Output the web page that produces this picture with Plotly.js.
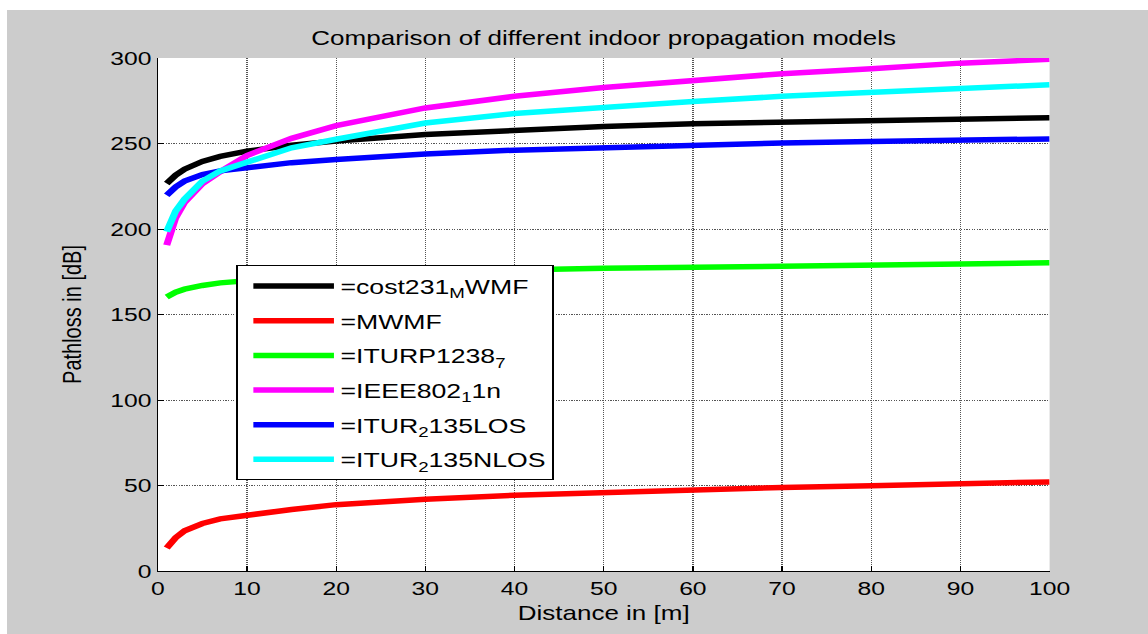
<!DOCTYPE html>
<html>
<head>
<meta charset="utf-8">
<script src="https://cdn.plot.ly/plotly-3.0.1.min.js"></script>
<style>
  html, body { margin: 0; padding: 0; background: #ffffff; width: 1148px; height: 634px; overflow: hidden; }
  #wrap { position: absolute; left: 7px; top: 10px; width: 1141px; height: 624px; overflow: hidden; background: #cccccc; }
  #plot { position: absolute; left: 0; top: 0; width: 878px; height: 624px; transform: scaleX(1.3); transform-origin: 0 0; }
</style>
</head>
<body>
<div id="wrap"><div id="plot"></div></div>
<script>
// ---- data ----
const distance = [1, 2, 3, 4, 5, 7, 10, 15, 20, 30, 40, 50, 60, 70, 80, 90, 100];
const cost231MWMF = [226.6, 231.5, 235.0, 237.5, 239.5, 242.5, 245.5, 249.0, 251.5, 255.2, 257.7, 260.0, 261.6, 262.6, 263.6, 264.5, 265.1];
const MWMF = [13.5, 19.5, 23.5, 26.0, 27.8, 30.5, 32.6, 36.0, 38.8, 42.0, 44.3, 46.0, 47.6, 48.9, 49.9, 50.9, 52.1];
const ITURP1238_7 = [160.2, 163.0, 164.8, 166.0, 167.0, 168.5, 170.0, 171.8, 173.0, 174.8, 176.0, 177.0, 177.8, 178.5, 179.1, 179.5, 180.2];
const IEEE802_11n = [190.6, 206.5, 215.5, 221.5, 226.5, 233.5, 243.0, 253.0, 260.5, 270.8, 277.6, 282.7, 286.7, 290.8, 293.7, 297.0, 299.2];
const ITUR2135LOS = [219.8, 224.6, 228.0, 230.0, 231.8, 234.0, 236.0, 238.8, 240.6, 243.8, 246.1, 247.6, 249.2, 250.3, 251.1, 251.9, 252.7];
const ITUR2135NLOS = [198.4, 210.5, 217.5, 223.0, 228.0, 234.0, 239.0, 247.5, 252.5, 262.0, 267.5, 271.3, 274.5, 277.6, 280.1, 282.1, 284.4];

const seriesNames = ['=cost231<sub>M</sub>WMF', '=MWMF', '=ITURP1238<sub>7</sub>', '=IEEE802<sub>1</sub>1n', '=ITUR<sub>2</sub>135LOS', '=ITUR<sub>2</sub>135NLOS'];
const seriesValues = [cost231MWMF, MWMF, ITURP1238_7, IEEE802_11n, ITUR2135LOS, ITUR2135NLOS];
const seriesColors = ['#000000', '#ff0000', '#00ff00', '#ff00ff', '#0000ff', '#00ffff'];

const xTicks = [0, 10, 20, 30, 40, 50, 60, 70, 80, 90, 100];
const yTicks = [0, 50, 100, 150, 200, 250, 300];

const titleText = 'Comparison of different indoor propagation models';
const xTitle = 'Distance in [m]';
const yTitle = 'Pathloss in [dB]';

// ---- traces ----
const traces = seriesValues.map((vals, i) => ({
  x: distance,
  y: vals,
  type: 'scatter',
  mode: 'lines',
  name: seriesNames[i],
  legendgroup: 'g' + i,
  line: { color: seriesColors[i], width: 5.5 },
  hoverinfo: 'x+y'
}));

const FONT = 'Arial, "Liberation Sans", Helvetica, sans-serif';

const baseAxis = {
  showgrid: true,
  gridcolor: '#555555',
  griddash: '1px,1px',
  gridwidth: 1,
  zeroline: false,
  showline: true,
  linecolor: '#000000',
  linewidth: 1,
  mirror: false,
  ticks: 'inside',
  ticklen: 5,
  tickwidth: 1,
  tickcolor: '#000000',
  tickfont: { family: FONT, size: 19, color: '#000000' }
};

const layout = {
  width: 878,
  height: 624,
  margin: { l: 115.6, r: 75.7, t: 47.5, b: 62.5, pad: 0 },
  paper_bgcolor: '#cccccc',
  plot_bgcolor: '#ffffff',
  font: { family: FONT, size: 19, color: '#000000' },
  title: {
    text: titleText,
    font: { family: FONT, size: 20, color: '#000000' },
    x: 0.5, xref: 'paper', xanchor: 'center',
    y: 0.955, yref: 'container', yanchor: 'middle'
  },
  xaxis: Object.assign({}, baseAxis, {
    range: [0, 100],
    tickvals: xTicks,
    ticktext: xTicks.map(String),
    title: { text: xTitle, font: { family: FONT, size: 20, color: '#000000' }, standoff: 8 }
  }),
  yaxis: Object.assign({}, baseAxis, {
    range: [0, 300],
    tickvals: yTicks,
    ticktext: yTicks.map(String),
    title: { text: yTitle, font: { family: FONT, size: 20, color: '#000000' }, standoff: 16 }
  }),
  xaxis2: {
    overlaying: 'x', side: 'top', range: [0, 100], tickvals: xTicks,
    showticklabels: false, showgrid: false, zeroline: false, showline: false,
    ticks: 'inside', ticklen: 5, tickwidth: 1, tickcolor: '#000000'
  },
  yaxis2: {
    overlaying: 'y', side: 'right', range: [0, 300], tickvals: yTicks,
    showticklabels: false, showgrid: false, zeroline: false, showline: false,
    ticks: 'inside', ticklen: 5, tickwidth: 1, tickcolor: '#000000'
  },
  showlegend: true,
  legend: {
    x: 0.0882, xanchor: 'left', xref: 'paper',
    y: 0.596, yanchor: 'top', yref: 'paper',
    bgcolor: '#ffffff',
    bordercolor: '#000000',
    borderwidth: 1,
    font: { family: FONT, size: 20.5, color: '#000000' },
    itemwidth: 62,
    indentation: 7,
    tracegroupgap: 5,
    traceorder: 'grouped'
  }
};

Plotly.newPlot('plot', traces, layout, { displayModeBar: false, responsive: false });
</script>
</body>
</html>
